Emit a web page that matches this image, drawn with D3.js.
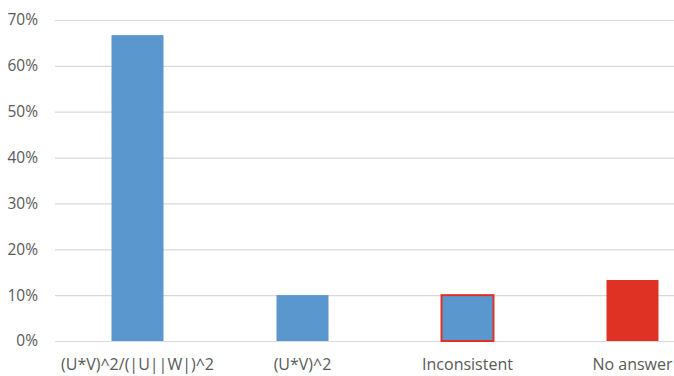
<!DOCTYPE html>
<html>
<head>
<meta charset="utf-8">
<script src="https://cdn.jsdelivr.net/npm/d3@7"></script>
<style>
  html, body { margin: 0; padding: 0; background: #fff; }
  svg { display: block; font-family: "Open Sans", Lato, sans-serif; }
</style>
</head>
<body>
<svg id="chart" width="674" height="376"></svg>
<script>
// Share of answers per formula choice
const categories = ["(U*V)^2/(|U||W|)^2", "(U*V)^2", "Inconsistent", "No answer"];
const shares = [0.667, 0.10, 0.10, 0.133];
const yTicks = [0, 0.1, 0.2, 0.3, 0.4, 0.5, 0.6, 0.7];

const svg = d3.select("#chart");
const W = 674, H = 376;
const plotLeft = 55, plotTop = 20, plotBottom = 341;

const x = d3.scaleBand()
  .domain(categories)
  .range([plotLeft, plotLeft + 660])
  .paddingInner(0.685)
  .paddingOuter(0.3425);

const y = d3.scaleLinear().domain([0, 0.7]).range([plotBottom, plotTop]);

// gridlines + percentage labels
const yAxis = d3.axisLeft(y)
  .tickValues(yTicks)
  .tickFormat(d3.format(".0%"))
  .tickSize(-(W - plotLeft))
  .tickPadding(17);

const gy = svg.append("g")
  .attr("transform", `translate(${plotLeft},0)`)
  .call(yAxis);
gy.select(".domain").remove();
gy.selectAll(".tick line").attr("stroke", "#d9d9d9").attr("stroke-width", 1.2);
gy.selectAll(".tick text")
  .attr("fill", "#595959")
  .style("font-size", "15.5px")
  .style("font-family", "'Open Sans', Lato, sans-serif");

const blue = "#5b97cf", red = "#e03224";
const fillFor = c => c === "No answer" ? red : blue;

// bars
svg.append("g").selectAll("rect")
  .data(categories.map((c, i) => ({ c, v: shares[i] })))
  .join("rect")
  .attr("x", d => x(d.c))
  .attr("y", d => y(d.v))
  .attr("width", x.bandwidth())
  .attr("height", d => y(0) - y(d.v))
  .attr("fill", d => fillFor(d.c))
  .attr("stroke", d => d.c === "Inconsistent" ? red : "none")
  .attr("stroke-width", 2);

// category labels
svg.append("g").selectAll("text")
  .data(categories)
  .join("text")
  .attr("x", d => x(d) + x.bandwidth() / 2)
  .attr("y", 370)
  .attr("text-anchor", "middle")
  .attr("fill", "#595959")
  .style("font-size", "16px")
  .text(d => d);
</script>
</body>
</html>
